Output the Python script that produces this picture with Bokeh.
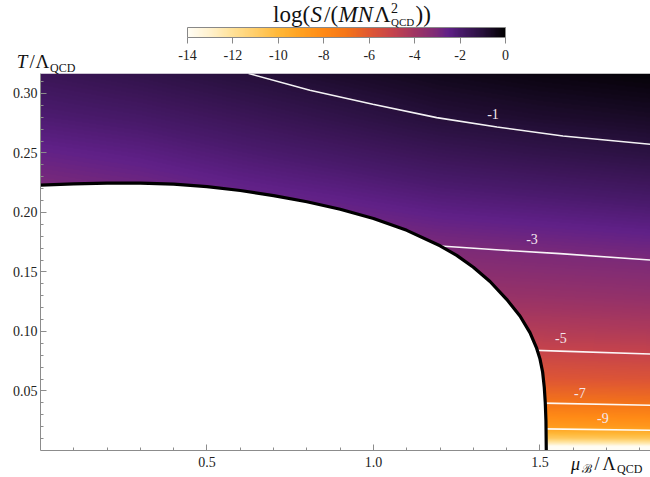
import numpy as np
from bokeh.plotting import figure
from bokeh.models import (LinearColorMapper, ColorBar, FixedTicker, GridBox, Div,
                          NumeralTickFormatter, Range1d)
from bokeh.core.properties import value
from bokeh.embed import file_html
from bokeh.resources import INLINE

# ---------------- data ----------------
mu_nodes = [0.0, 0.3, 0.6, 0.9, 1.2, 1.5, 1.83]
T_nodes = [0.0, 0.005, 0.01, 0.02, 0.04, 0.06, 0.08, 0.10, 0.13, 0.16,
           0.19, 0.22, 0.25, 0.28, 0.32]
# log(S/(M N Lambda^2)) along T_nodes, one list per mu node
logS_mu000 = [-16, -13.0, -11.1, -9.1, -7.3, -6.2, -5.45, -4.9, -4.3, -3.75, -3.4, -3.05, -2.6, -2.1, -1.52]
logS_mu030 = [-16, -13.0, -11.0, -9.0, -7.25, -6.15, -5.4, -4.85, -4.2, -3.7, -3.28, -2.85, -2.4, -1.9, -1.26]
logS_mu060 = [-16, -12.95, -11.0, -8.95, -7.15, -6.05, -5.3, -4.8, -4.15, -3.6, -3.08, -2.59, -2.1, -1.61, -0.96]
logS_mu090 = [-16, -12.9, -10.9, -8.85, -7.1, -6.0, -5.25, -4.7, -4.0, -3.45, -2.89, -2.36, -1.83, -1.3, -0.68]
logS_mu120 = [-16, -12.9, -10.9, -8.8, -7.05, -5.95, -5.2, -4.6, -3.8, -3.25, -2.66, -2.1, -1.54, -0.98, -0.43]
logS_mu150 = [-16, -12.9, -10.8, -8.75, -6.98, -5.9, -5.14, -4.5, -3.73, -3.12, -2.53, -1.94, -1.34, -0.8, -0.25]
logS_mu183 = [-16, -12.7, -10.6, -8.6, -6.87, -5.8, -5.03, -4.38, -3.61, -3.0, -2.38, -1.76, -1.15, -0.66, -0.12]

# phase boundary T(mu)
boundary_mu = [0.0, 0.1, 0.2, 0.3, 0.4, 0.5, 0.6, 0.7, 0.8, 0.9, 1.0, 1.1, 1.2, 1.25,
               1.3, 1.35, 1.4, 1.44, 1.47, 1.49, 1.50, 1.508, 1.513, 1.516, 1.518, 1.519]
boundary_T = [0.2230, 0.2240, 0.2247, 0.2247, 0.2238, 0.2218, 0.2185, 0.2142, 0.2090,
              0.2027, 0.1950, 0.1850, 0.1720, 0.1640, 0.1540, 0.1420, 0.1270, 0.1130,
              0.0990, 0.0860, 0.0770, 0.0660, 0.0530, 0.0400, 0.0250, 0.0]

# contour lines
contour_m1_mu = [0.625, 0.809, 0.998, 1.19, 1.371, 1.569, 1.832]
contour_m1_T = [0.3168, 0.3027, 0.2909, 0.2797, 0.2718, 0.2643, 0.2573]
contour_m3_mu = [1.19, 1.38, 1.56, 1.832]
contour_m3_T = [0.1720, 0.1685, 0.1654, 0.1600]
contour_m5_mu = [1.48, 1.56, 1.832]
contour_m5_T = [0.0843, 0.0835, 0.0811]
contour_m7_mu = [1.51, 1.832]
contour_m7_T = [0.0398, 0.0380]
contour_m9_mu = [1.51, 1.832]
contour_m9_T = [0.0182, 0.0170]
contour_labels = ["-1", "-3", "-5", "-7", "-9"]
contour_label_mu = [1.359, 1.476, 1.563, 1.620, 1.689]
contour_label_T = [0.2828, 0.1777, 0.0945, 0.0483, 0.0273]

# colour scale
cmap_values = [-14, -13, -12, -11, -10, -9, -8, -7, -6, -5, -4, -3, -2.5, -2, -1, 0]
cmap_colors = ["#fffdf5", "#fff1cc", "#ffe196", "#ffcd68", "#ffb838", "#ffa020",
               "#ff8a16", "#f57518", "#e05832", "#c6444b", "#a03562", "#7b2a78",
               "#602088", "#4a1a6c", "#27103c", "#000000"]
cb_ticks = [-14, -12, -10, -8, -6, -4, -2, 0]

x_ticks = [0.5, 1.0, 1.5]
x_minor = [0.1, 0.2, 0.3, 0.4, 0.6, 0.7, 0.8, 0.9, 1.1, 1.2, 1.3, 1.4, 1.6, 1.7, 1.8]
y_ticks = [0.05, 0.10, 0.15, 0.20, 0.25, 0.30]
y_minor = [round(0.01 * i, 2) for i in range(1, 32)]

X_MAX = 1.832
Y_MAX = 0.3168
W, H = 650, 477

# ---------------- palette ----------------
def hex2rgb(h):
    return [int(h[i:i + 2], 16) for i in (1, 3, 5)]

rgb = np.array([hex2rgb(c) for c in cmap_colors], dtype=float)
palette = []
for v in np.linspace(-14, 0, 256):
    r, g, b = (np.interp(v, cmap_values, rgb[:, k]) for k in range(3))
    palette.append("#%02x%02x%02x" % (int(round(r)), int(round(g)), int(round(b))))

mapper = LinearColorMapper(palette=palette, low=-14, high=0,
                           low_color=palette[0], high_color=palette[-1])

# ---------------- field image (smooth display of the grid) ----------------
grid = np.array([logS_mu000, logS_mu030, logS_mu060, logS_mu090,
                 logS_mu120, logS_mu150, logS_mu183]).T  # rows: T, cols: mu
MU = np.linspace(0, X_MAX, 610)
TT = np.linspace(0, Y_MAX, 377)
tmp = np.array([np.interp(TT, T_nodes, grid[:, j]) for j in range(len(mu_nodes))]).T
Z = np.array([np.interp(MU, mu_nodes, tmp[i]) for i in range(len(TT))])

# ---------------- main figure ----------------
p = figure(width=W, height=H, x_range=Range1d(0, X_MAX), y_range=Range1d(0, Y_MAX),
           output_backend="svg", toolbar_location=None,
           min_border_left=40, min_border_right=0, min_border_top=73, min_border_bottom=27)
p.grid.visible = False
p.outline_line_color = None

p.image(image=[Z], x=0, y=0, dw=X_MAX, dh=Y_MAX, color_mapper=mapper)

for cm, ct in [(contour_m1_mu, contour_m1_T), (contour_m3_mu, contour_m3_T),
               (contour_m5_mu, contour_m5_T), (contour_m7_mu, contour_m7_T),
               (contour_m9_mu, contour_m9_T)]:
    p.line(cm, ct, line_color="white", line_width=1.6, line_alpha=0.95)

p.text(x=contour_label_mu, y=contour_label_T, text=contour_labels,
       text_font=value("Liberation Serif"), text_font_size="14px",
       text_color="#f4e8ee", text_align="center", text_baseline="middle")

# hadron region (white) and boundary
p.patch(boundary_mu + [0.0], boundary_T + [0.0], fill_color="white", line_color=None)
p.line(boundary_mu, boundary_T, line_color="black", line_width=3.2)

AX = "#8c8c8c"
for ax in (p.xaxis[0], p.yaxis[0]):
    ax.axis_line_color = AX
    ax.major_tick_line_color = AX
    ax.minor_tick_line_color = AX
    ax.major_tick_in = 6
    ax.major_tick_out = 0
    ax.minor_tick_in = 3
    ax.minor_tick_out = 0
    ax.major_label_text_font = "Liberation Serif"
    ax.major_label_text_font_size = "14px"
    ax.major_label_text_color = "#222222"
p.xaxis.ticker = FixedTicker(ticks=x_ticks, minor_ticks=x_minor)
p.yaxis.ticker = FixedTicker(ticks=y_ticks, minor_ticks=y_minor)
p.xaxis.formatter = NumeralTickFormatter(format="0.0")
p.yaxis.formatter = NumeralTickFormatter(format="0.00")
p.xaxis.major_label_standoff = 6
p.yaxis.major_label_standoff = 3

cb = ColorBar(color_mapper=mapper, orientation="horizontal", location=(147, 388),
              width=318, height=10, padding=0,
              ticker=FixedTicker(ticks=cb_ticks), formatter=NumeralTickFormatter(format="0"),
              major_tick_in=0, major_tick_out=6,
              major_tick_line_color="#888888", minor_tick_line_color=None,
              bar_line_color="#888888", bar_line_width=1,
              major_label_text_font="Liberation Serif", major_label_text_font_size="14px",
              major_label_text_color="#222222", label_standoff=6,
              background_fill_alpha=0, border_line_color=None, title=None)
p.add_layout(cb, "center")

# ---------------- text layer for the mixed-style labels ----------------
pieces = []

def txt(x, baseline, s, size, style="normal", font="Liberation Serif"):
    top = baseline - 0.8375 * size - 4.0
    pieces.append(
        '<span style="position:absolute;left:%.1fpx;top:%.1fpx;font-family:\'%s\';'
        'font-size:%dpx;font-style:%s;line-height:1;white-space:nowrap;color:#111;">%s</span>'
        % (x, top, font, size, style, s))

# colour-bar title  log(S/(M N Λ²_QCD))
txt(268.0, 21.7, "log(", 23)
txt(305.5, 21.7, "S", 23, "italic")
txt(319.0, 21.7, "/(", 23)
txt(333.5, 21.7, "MN", 23, "italic")
txt(369.0, 21.7, "Λ", 23)
txt(386.0, 13.0, "2", 14)
txt(386.0, 25.5, "QCD", 11)
txt(410.5, 21.7, "))", 23)

# T/Λ_QCD
txt(11.7, 66.7, "T", 19, "italic")
txt(24.5, 66.7, "/", 19)
txt(30.5, 66.7, "Λ", 19)
txt(45.0, 70.5, "QCD", 12)

# μ_B/Λ_QCD
txt(566.0, 469.5, "μ", 18, "italic")
txt(577.0, 472.5, "ℬ", 12, "normal", "DejaVu Serif")
txt(589.5, 469.5, "/", 18)
txt(597.5, 469.5, "Λ", 18)
txt(612.0, 472.0, "QCD", 12)

html = ('<div style="position:relative;width:%dpx;height:%dpx;pointer-events:none;">%s</div>'
        % (W, H, "".join(pieces)))
labels = Div(text=html, width=W, height=H, styles={"pointer-events": "none"})

layout = GridBox(children=[(p, 0, 0), (labels, 0, 0)])
open("out.html", "w").write(file_html(layout, INLINE))
